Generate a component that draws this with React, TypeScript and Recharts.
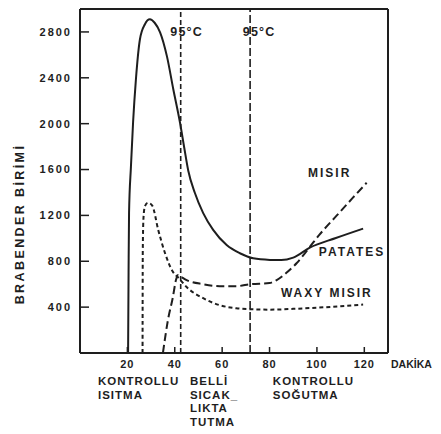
import { LineChart, Line, XAxis, YAxis, ReferenceLine, ReferenceDot } from 'recharts'

const font = { fontFamily: '"Liberation Sans", Arial, sans-serif', fontWeight: 700, fill: '#1e1e1e' }
const ink = '#1e1e1e'

const yTicks = [400, 800, 1200, 1600, 2000, 2400, 2800]
const xTicks = [20, 40, 60, 80, 100, 120]

// patates - düz çizgi
const patatesT = [20.3, 20.5, 20.7, 21.5, 22.4, 23.6, 25.3, 27.4, 29.5, 31.5, 33.8, 36.7, 39.4, 42.2, 44, 45.7, 48.5, 52, 56.2, 61.9, 67.5, 73.1, 80.2, 85, 90, 97, 108, 119.5]
const patatesV = [0, 700, 1220, 1625, 2010, 2386, 2736, 2867, 2910, 2880, 2797, 2587, 2298, 2010, 1790, 1590, 1395, 1220, 1074, 942, 870, 826, 812, 810, 832, 919, 1003, 1085]

// mısır - uzun kesikli
const misirT = [35, 37.1, 39.2, 40.5, 41.4, 43, 45, 52, 59, 66, 72, 80, 83, 87, 91.5, 97, 101, 108.4, 115, 121]
const misirV = [0, 285, 487, 636, 680, 660, 636, 600, 583, 583, 600, 610, 636, 697, 785, 925, 1030, 1200, 1350, 1485]

// waxy mısır - kısa kesikli
const waxyT = [26.4, 26.5, 26.8, 27.4, 28.7, 30.5, 33, 35.9, 39.3, 41.4, 45, 52, 59, 66, 72, 80, 90, 100, 110, 119.5]
const waxyV = [0, 900, 1180, 1280, 1310, 1285, 1075, 870, 705, 660, 575, 478, 417, 390, 382, 378, 385, 395, 408, 422]

const holdLines = [42.5, 71.8]

const phaseStarts = [7.6, 46.4, 81.4]
const phaseLabels = [
  ['KONTROLLU', 'ISITMA'],
  ['BELLİ', 'SICAK_', 'LIKTA', 'TUTMA'],
  ['KONTROLLU', 'SOĞUTMA'],
]

const toPoints = (t: number[], v: number[]) => t.map((x, i) => ({ t: x, v: v[i] }))
const patates = toPoints(patatesT, patatesV)
const misir = toPoints(misirT, misirV)
const waxy = toPoints(waxyT, waxyV)
const phaseAnchors = phaseStarts.map((t) => ({ t, v: 0 }))

function renderPhaseTick(props: any) {
  const { x, y, index } = props
  const lines = phaseLabels[index] || []
  return (
    <text key={index} x={x} y={y} textAnchor="start" fontSize={11.5} letterSpacing={1} {...font}>
      {lines.map((l, i) => (
        <tspan key={i} x={x} dy={i === 0 ? 12 : 13.7}>{l}</tspan>
      ))}
    </text>
  )
}

function YTitle({ viewBox }: any) {
  const cx = viewBox.x + 12
  const cy = viewBox.y + viewBox.height * 0.625
  return (
    <text x={cx} y={cy} transform={`rotate(-90, ${cx}, ${cy})`} textAnchor="middle" dominantBaseline="central" fontSize={12.5} letterSpacing={2.4} {...font}>
      BRABENDER  BİRİMİ
    </text>
  )
}

export default function App() {
  return (
    <div style={{ marginBottom: -8 }}>
      <LineChart width={433} height={426} margin={{ top: 1, right: 53, bottom: 11, left: 0 }}>
        <XAxis
          dataKey="t"
          type="number"
          domain={[0, 130]}
          ticks={xTicks}
          interval={0}
          height={20}
          tickSize={-6}
          tickMargin={13}
          axisLine={{ stroke: ink, strokeWidth: 2 }}
          tickLine={{ stroke: ink, strokeWidth: 1.5 }}
          tick={{ fontSize: 11, letterSpacing: 1, ...font }}
          label={{ value: 'DAKİKA', position: 'right', offset: 3, dy: 1, fontSize: 10.5, letterSpacing: 0, ...font }}
        />
        <XAxis
          xAxisId="phase"
          dataKey="t"
          type="number"
          domain={[0, 130]}
          ticks={phaseStarts}
          interval={0}
          height={50}
          tickSize={0}
          tickMargin={0}
          axisLine={false}
          tickLine={false}
          tick={renderPhaseTick}
        />
        <YAxis
          type="number"
          domain={[0, 3000]}
          ticks={yTicks}
          interval={0}
          width={72}
          tickSize={-9}
          tickMargin={17}
          axisLine={{ stroke: ink, strokeWidth: 2 }}
          tickLine={{ stroke: ink, strokeWidth: 1.5 }}
          tick={{ fontSize: 11, letterSpacing: 2, ...font }}
          label={{ content: <YTitle /> }}
        />
        <ReferenceLine y={3000} stroke={ink} strokeWidth={2} />
        <ReferenceLine x={130} stroke={ink} strokeWidth={2} />
        <ReferenceLine
          x={holdLines[0]}
          stroke={ink}
          strokeWidth={1.6}
          strokeDasharray="5 3"
          label={{ value: '95°C', position: 'insideTop', offset: 18, dx: 6, fontSize: 12.5, letterSpacing: 1.2, ...font }}
        />
        <ReferenceLine
          x={holdLines[1]}
          stroke={ink}
          strokeWidth={1.6}
          strokeDasharray="8 3"
          label={{ value: '95°C', position: 'insideTop', offset: 18, dx: 9, fontSize: 12.5, letterSpacing: 1.2, ...font }}
        />
        <Line xAxisId="phase" data={phaseAnchors} dataKey="v" stroke="none" dot={false} isAnimationActive={false} />
        <Line data={patates} dataKey="v" type="monotone" dot={false} stroke={ink} strokeWidth={2} isAnimationActive={false} />
        <Line data={misir} dataKey="v" type="monotone" dot={false} stroke={ink} strokeWidth={2} strokeDasharray="8 4" isAnimationActive={false} />
        <Line data={waxy} dataKey="v" type="monotone" dot={false} stroke={ink} strokeWidth={2} strokeDasharray="4 3" isAnimationActive={false} />
        <ReferenceDot x={95.8} y={1572} r={1} fill="none" stroke="none" label={{ value: 'MISIR', position: 'right', offset: 0, fontSize: 12, letterSpacing: 2, ...font }} />
        <ReferenceDot x={100.4} y={881} r={1} fill="none" stroke="none" label={{ value: 'PATATES', position: 'right', offset: 0, fontSize: 12, letterSpacing: 2, ...font }} />
        <ReferenceDot x={84.4} y={522} r={1} fill="none" stroke="none" label={{ value: 'WAXY MISIR', position: 'right', offset: 0, fontSize: 12, letterSpacing: 2, ...font }} />
      </LineChart>
    </div>
  )
}
